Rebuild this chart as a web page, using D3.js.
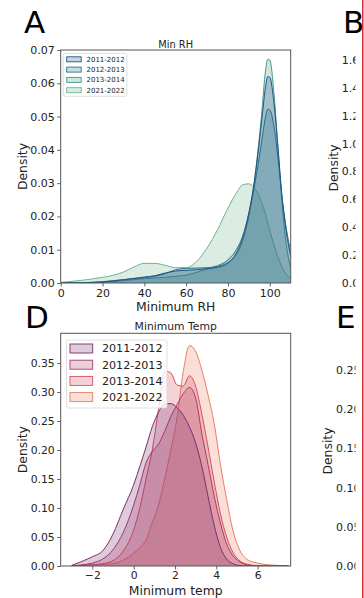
<!DOCTYPE html>
<html><head><meta charset="utf-8">
<script src="https://cdn.jsdelivr.net/npm/d3@7"></script>
<style>body{margin:0;background:#fff;} svg{display:block;font-family:"DejaVu Sans",sans-serif;}</style>
</head><body><svg id="c" width="364" height="598"></svg>
<script>
// ---------- data ----------
const years = ["2011-2012", "2012-2013", "2013-2014", "2021-2022"];

// Panel A: Min RH density (x grid + one density array per season)
const rhX    = [0, 10, 20, 25, 30, 35, 40, 45, 50, 55, 60, 65, 70, 75, 80, 84, 87, 90, 92, 94, 96, 98, 99, 100, 102, 104, 106, 108, 110];
const rh2011 = [0, 0.0001, 0.0003, 0.0006, 0.0010, 0.0014, 0.0018, 0.0022, 0.0030, 0.0036, 0.0038, 0.0040, 0.0043, 0.0047, 0.0060, 0.0090, 0.0135, 0.0210, 0.0280, 0.0370, 0.0480, 0.0590, 0.0620, 0.0618, 0.0540, 0.0400, 0.0250, 0.0150, 0.0080];
const rh2012 = [0, 0.0001, 0.0004, 0.0007, 0.0010, 0.0013, 0.0016, 0.0020, 0.0028, 0.0040, 0.0044, 0.0045, 0.0046, 0.0052, 0.0070, 0.0100, 0.0140, 0.0210, 0.0270, 0.0340, 0.0420, 0.0500, 0.0522, 0.0520, 0.0470, 0.0370, 0.0250, 0.0160, 0.0095];
const rh2013 = [0, 0.0001, 0.0002, 0.0004, 0.0007, 0.0010, 0.0013, 0.0015, 0.0017, 0.0020, 0.0024, 0.0032, 0.0042, 0.0050, 0.0062, 0.0085, 0.0125, 0.0200, 0.0275, 0.0380, 0.0500, 0.0640, 0.0672, 0.0670, 0.0570, 0.0400, 0.0230, 0.0110, 0.0045];
const rh2021 = [0.0002, 0.0008, 0.0017, 0.0023, 0.0033, 0.0048, 0.0059, 0.0059, 0.0053, 0.0046, 0.0046, 0.0065, 0.0105, 0.0160, 0.0225, 0.0270, 0.0295, 0.0298, 0.0290, 0.0272, 0.0245, 0.0205, 0.0180, 0.0158, 0.0115, 0.0076, 0.0046, 0.0026, 0.0014];

// Panel D: Minimum Temp density
const tempX    = [-3, -2.5, -2, -1.5, -1, -0.5, 0, 0.3, 0.6, 0.9, 1.2, 1.5, 1.8, 2.1, 2.4, 2.7, 3.0, 3.3, 3.6, 3.9, 4.2, 4.5, 4.8, 5.1, 5.5, 6, 6.5, 7, 7.5];
const temp2011 = [0.001, 0.008, 0.016, 0.026, 0.055, 0.098, 0.140, 0.172, 0.205, 0.240, 0.265, 0.279, 0.280, 0.273, 0.260, 0.240, 0.212, 0.172, 0.120, 0.070, 0.032, 0.012, 0.004, 0.001, 0, 0, 0, 0, 0];
const temp2012 = [0, 0.002, 0.005, 0.012, 0.028, 0.058, 0.105, 0.140, 0.178, 0.197, 0.210, 0.232, 0.258, 0.278, 0.297, 0.308, 0.290, 0.228, 0.175, 0.120, 0.074, 0.038, 0.018, 0.008, 0.002, 0, 0, 0, 0];
const temp2013 = [0, 0.001, 0.002, 0.004, 0.009, 0.026, 0.062, 0.100, 0.150, 0.200, 0.270, 0.336, 0.333, 0.312, 0.310, 0.328, 0.310, 0.262, 0.205, 0.145, 0.090, 0.050, 0.024, 0.010, 0.003, 0.0005, 0, 0, 0];
const temp2021 = [0, 0.001, 0.002, 0.003, 0.004, 0.010, 0.022, 0.032, 0.045, 0.075, 0.105, 0.150, 0.200, 0.255, 0.335, 0.380, 0.370, 0.338, 0.295, 0.245, 0.175, 0.115, 0.062, 0.030, 0.011, 0.005, 0.002, 0.001, 0];

// tick labels
const rhTicksX = [0, 20, 40, 60, 80, 100];
const rhTicksY = [0, 0.01, 0.02, 0.03, 0.04, 0.05, 0.06, 0.07];
const tempTicksX = [-2, 0, 2, 4, 6];
const tempTicksY = [0, 0.05, 0.10, 0.15, 0.20, 0.25, 0.30, 0.35];
const bTicks = [0, 0.2, 0.4, 0.6, 0.8, 1.0, 1.2, 1.4, 1.6];
const eTicks = [0, 0.05, 0.10, 0.15, 0.20, 0.25];

const crestColors = ["#215583", "#26768b", "#45948e", "#6fb291"];
const flareColors = ["#7b2e6f", "#aa3a6d", "#d5505f", "#e77e65"];

// ---------- drawing ----------
const svg = d3.select("#c");
const FONT = "DejaVu Sans";
const TXT = "#222";
const AX = "#555";

function panel(o) {
  const g = svg.append("g");
  const x = d3.scaleLinear().domain(o.xdom).range([o.left, o.right]);
  const y = d3.scaleLinear().domain(o.ydom).range([o.bottom, o.top]);
  const cid = "clip" + o.id;
  svg.append("defs").append("clipPath").attr("id", cid)
    .append("rect").attr("x", o.left).attr("y", o.top)
    .attr("width", o.right - o.left).attr("height", o.bottom - o.top);

  const area = d3.area().x(d => x(d[0])).y0(y(0)).y1(d => y(d[1])).curve(d3.curveMonotoneX);
  const line = d3.line().x(d => x(d[0])).y(d => y(d[1])).curve(d3.curveMonotoneX);
  const plot = g.append("g").attr("clip-path", `url(#${cid})`);
  // seaborn layers hue levels in reverse order
  for (let i = o.series.length - 1; i >= 0; i--) {
    const pts = o.xs.map((v, j) => [v, o.series[i][j]]);
    plot.append("path").attr("d", area(pts)).attr("fill", o.colors[i]).attr("fill-opacity", 0.25);
    plot.append("path").attr("d", line(pts)).attr("fill", "none").attr("stroke", o.colors[i]).attr("stroke-width", 1);
  }

  const ax = g.append("g").attr("transform", `translate(0,${o.bottom})`)
    .call(d3.axisBottom(x).tickValues(o.xticks).tickSize(3.5).tickPadding(o.xpad).tickFormat(o.xfmt));
  const ay = g.append("g").attr("transform", `translate(${o.left},0)`)
    .call(d3.axisLeft(y).tickValues(o.yticks).tickSize(3.5).tickPadding(2.5).tickFormat(d3.format(".2f")));
  [ax, ay].forEach(a => {
    a.select(".domain").remove();
    a.attr("font-family", FONT).attr("font-size", o.tickFs);
    a.selectAll("line").attr("stroke", AX).attr("stroke-width", 0.9);
    a.selectAll("text").attr("fill", TXT);
  });

  g.append("rect").attr("x", o.left).attr("y", o.top)
    .attr("width", o.right - o.left).attr("height", o.bottom - o.top)
    .attr("fill", "none").attr("stroke", AX).attr("stroke-width", 1);

  g.append("text").attr("x", (o.left + o.right) / 2).attr("y", o.titleY)
    .attr("text-anchor", "middle").attr("font-family", FONT).attr("font-size", o.titleFs)
    .attr("fill", TXT).text(o.title);
  g.append("text").attr("x", (o.left + o.right) / 2).attr("y", o.xlabelY)
    .attr("text-anchor", "middle").attr("font-family", FONT).attr("font-size", 12.4)
    .attr("fill", TXT).text(o.xlabel);
  g.append("text").attr("transform", `translate(${o.ylabelX},${(o.top + o.bottom) / 2}) rotate(-90)`)
    .attr("text-anchor", "middle").attr("dy", "0.35em").attr("font-family", FONT).attr("font-size", 12.4)
    .attr("fill", TXT).text("Density");

  // legend
  const L = o.legend;
  const lg = g.append("g");
  lg.append("rect").attr("x", L.x).attr("y", L.y).attr("width", L.w).attr("height", L.h)
    .attr("rx", 2).attr("fill", "#fff").attr("fill-opacity", 0.8).attr("stroke", "#d8d8d8").attr("stroke-width", 0.8);
  years.forEach((yr, i) => {
    const cy = L.y0 + i * L.dy;
    lg.append("rect").attr("x", L.px).attr("y", cy - L.ph / 2).attr("width", L.pw).attr("height", L.ph)
      .attr("fill", o.colors[i]).attr("fill-opacity", 0.25).attr("stroke", o.colors[i]).attr("stroke-width", 0.9);
    lg.append("text").attr("x", L.tx).attr("y", cy).attr("dy", "0.36em")
      .attr("font-family", FONT).attr("font-size", L.fs).attr("fill", TXT).text(yr);
  });
}

panel({
  id: "A", left: 60.7, right: 290.7, top: 50, bottom: 283,
  xdom: [0, 110], ydom: [0, 0.07], xs: rhX,
  series: [rh2011, rh2012, rh2013, rh2021], colors: crestColors,
  xticks: rhTicksX, yticks: rhTicksY, xfmt: d3.format("d"), tickFs: 11, xpad: 2.5,
  title: "Min RH", titleY: 47.5, titleFs: 9.8,
  xlabel: "Minimum RH", xlabelY: 311, ylabelX: 22.5,
  legend: {x: 63.3, y: 53.3, w: 63.6, h: 43, y0: 59.3, dy: 10.3, px: 66.7, pw: 14.5, ph: 5, tx: 86.5, fs: 7}
});

panel({
  id: "D", left: 60.7, right: 290.7, top: 333.3, bottom: 566,
  xdom: [-3.53, 7.6], ydom: [0, 0.4012], xs: tempX,
  series: [temp2011, temp2012, temp2013, temp2021], colors: flareColors,
  xticks: tempTicksX, yticks: tempTicksY, xfmt: d3.format("d"), tickFs: 10.8, xpad: 2,
  title: "Minimum Temp", titleY: 329.5, titleFs: 10.8,
  xlabel: "Minimum temp", xlabelY: 594.5, ylabelX: 22.5,
  legend: {x: 66.5, y: 340, w: 100.5, h: 68, y0: 348.5, dy: 16.2, px: 70, pw: 22.7, ph: 9, tx: 102, fs: 11.1}
});

// panel letters
[["A", 24, 33], ["D", 25, 328], ["B", 343, 33], ["E", 336, 328]].forEach(([t, x, y]) => {
  svg.append("text").attr("x", x).attr("y", y).attr("font-family", FONT).attr("font-size", 31)
    .attr("fill", "#000").text(t);
});

// partial neighbouring panels (B and E), cut off at the figure crop
svg.append("defs").append("clipPath").attr("id", "clipRight")
  .append("rect").attr("x", 300).attr("y", 0).attr("width", 55.5).attr("height", 598);
const right = svg.append("g").attr("clip-path", "url(#clipRight)");
const yB = d3.scaleLinear().domain([0, 1.6]).range([282.7, 60.3]);
const yE = d3.scaleLinear().domain([0, 0.25]).range([566, 370.2]);
bTicks.forEach(v => right.append("text").attr("x", 341.7).attr("y", yB(v)).attr("dy", "0.36em")
  .attr("font-family", FONT).attr("font-size", 11).attr("fill", TXT).text(d3.format(".1f")(v)));
eTicks.forEach(v => right.append("text").attr("x", 336).attr("y", yE(v)).attr("dy", "0.36em")
  .attr("font-family", FONT).attr("font-size", 11).attr("fill", TXT).text(d3.format(".2f")(v)));
right.append("text").attr("transform", `translate(333.5,168) rotate(-90)`).attr("text-anchor", "middle")
  .attr("dy", "0.35em").attr("font-family", FONT).attr("font-size", 12.4).attr("fill", TXT).text("Density");
right.append("text").attr("transform", `translate(327.5,451) rotate(-90)`).attr("text-anchor", "middle")
  .attr("dy", "0.35em").attr("font-family", FONT).attr("font-size", 12.4).attr("fill", TXT).text("Density");

svg.append("rect").attr("x", 362).attr("y", 0).attr("width", 1.5).attr("height", 598).attr("fill", "#cc3535");
</script></body></html>
